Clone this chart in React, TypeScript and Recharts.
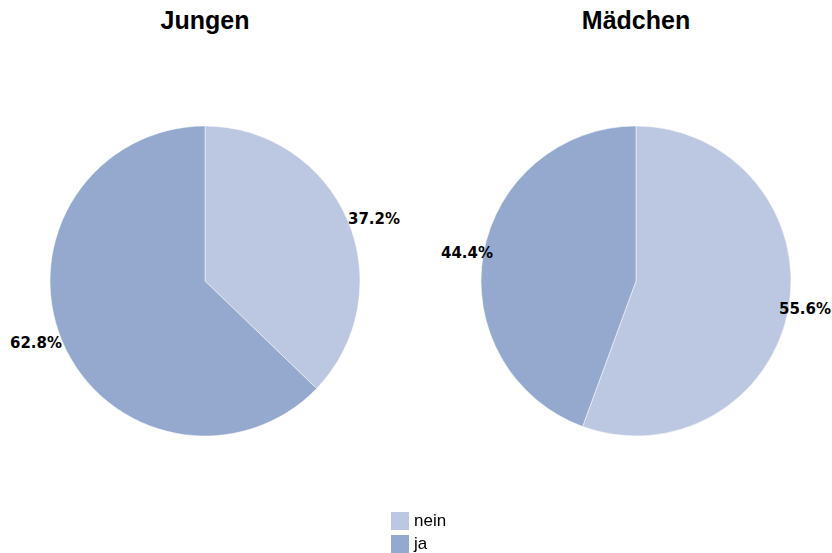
import { PieChart, Pie, Cell } from "recharts";

const CATEGORIES = ["nein", "ja"];
const COLORS = ["#bcc8e1", "#95a9cf"];
const GROUPS = ["Jungen", "Mädchen"];
const JUNGEN = [37.2, 62.8];
const MAEDCHEN = [55.6, 44.4];

const W = 832;
const H = 553;
const CENTERS = [205, 636];
const CY = 281;
const R = 155;
const RAD = Math.PI / 180;

function toData(values: number[]) {
  return CATEGORIES.map((name, i) => ({ name, value: values[i] }));
}

// labels sit just outside the pie, pushed sideways like the original best-fit placement
function renderLabel(props: any) {
  const { cx, cy, midAngle, outerRadius, value } = props;
  const c = Math.cos(-midAngle * RAD);
  const s = Math.sin(-midAngle * RAD);
  const x = cx + Math.sign(c) * (outerRadius + 14);
  const y = cy + s * (outerRadius + 4);
  return (
    <text
      x={x}
      y={y}
      textAnchor="middle"
      dominantBaseline="central"
      fontFamily="'DejaVu Sans', sans-serif"
      fontWeight={700}
      fontSize={15}
      fill="#000"
    >
      {`${Number(value).toFixed(1)}%`}
    </text>
  );
}

export default function App() {
  const series = [JUNGEN, MAEDCHEN];
  return (
    <div
      style={{
        position: "fixed",
        left: 0,
        top: 0,
        width: W,
        height: H,
        background: "#fff",
        fontFamily: "'Liberation Sans', Arial, sans-serif",
      }}
    >
      {GROUPS.map((g, i) => (
        <div
          key={g}
          style={{
            position: "absolute",
            left: CENTERS[i] - 150,
            width: 300,
            top: 5,
            textAlign: "center",
            fontSize: 25,
            fontWeight: 700,
            lineHeight: "30px",
          }}
        >
          {g}
        </div>
      ))}
      <PieChart
        width={W}
        height={H}
        margin={{ top: 0, right: 0, bottom: 0, left: 0 }}
        style={{ position: "absolute", left: 0, top: 0 }}
      >
        {series.map((vals, i) => (
          <Pie
            key={GROUPS[i]}
            data={toData(vals)}
            dataKey="value"
            nameKey="name"
            cx={CENTERS[i]}
            cy={CY}
            outerRadius={R}
            startAngle={90}
            endAngle={-270}
            stroke="#ffffff"
            strokeWidth={0.5}
            label={renderLabel}
            labelLine={false}
            isAnimationActive={false}
          >
            {CATEGORIES.map((c, j) => (
              <Cell key={c} fill={COLORS[j]} />
            ))}
          </Pie>
        ))}
      </PieChart>
      <div style={{ position: "absolute", left: 391, top: 509 }}>
        {CATEGORIES.map((c, j) => (
          <div key={c} style={{ display: "flex", alignItems: "center", height: 23 }}>
            <span style={{ width: 18, height: 18, background: COLORS[j], display: "inline-block" }} />
            <span style={{ marginLeft: 5, fontSize: 17, color: "#000" }}>{c}</span>
          </div>
        ))}
      </div>
    </div>
  );
}
